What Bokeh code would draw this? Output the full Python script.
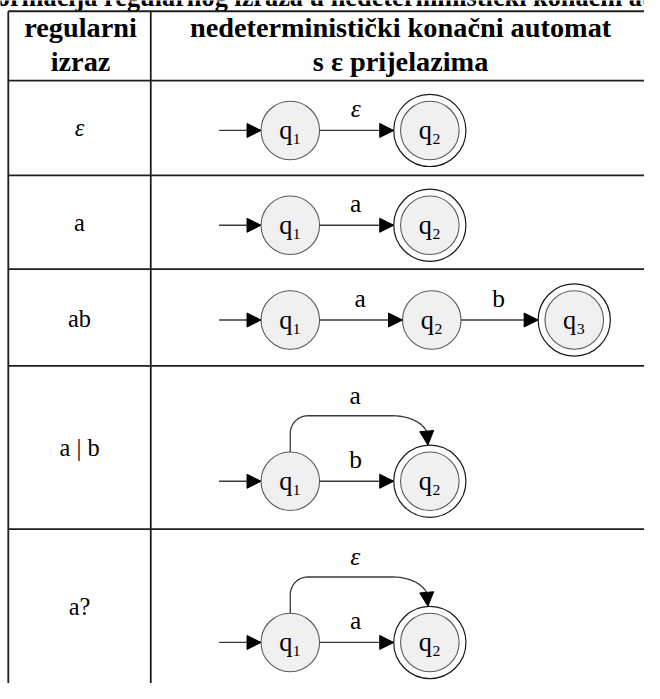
import numpy as np
from bokeh.plotting import figure
from bokeh.models import Arrow, NormalHead
from bokeh.core.properties import value
from bokeh.embed import file_html
from bokeh.resources import INLINE

# ---- data ----
title_text = "Transformacija regularnog izraza u nedeterministički konačni automat"
header_left = ["regularni", "izraz"]
header_right = ["nedeterministički konačni automat", "s ε prijelazima"]
row_labels = ["ε", "a", "ab", "a | b", "a?"]
row_states = [["q₁", "q₂"], ["q₁", "q₂"], ["q₁", "q₂", "q₃"], ["q₁", "q₂"], ["q₁", "q₂"]]
row_accepting = [[False, True], [False, True], [False, False, True], [False, True], [False, True]]
row_straight = [["ε"], ["a"], ["a", "b"], ["b"], ["a"]]
row_curved = [None, None, None, "a", "ε"]

# ---- layout (reference pixel space 660 x 699) ----
RW, RH = 660, 699
W, H = 644, 683
S = W / RW  # screen px per reference px


def fs(px):
    return f"{px * S:.1f}px"


p = figure(width=W, height=H, x_range=(0, RW), y_range=(RH, 0),
           output_backend="svg", toolbar_location=None, min_border=0)
p.axis.visible = False
p.grid.visible = False
p.outline_line_color = None
p.background_fill_color = "white"

SERIF = value("Liberation Serif")
LINE = "#1e1e1e"

# title (cut off at the top)
p.text(x=[330], y=[-3], text=[title_text], text_font=SERIF, text_font_size=fs(27),
       text_font_style="bold", text_align="center", text_baseline="middle", text_color="black")

# table grid
X_LEFT, X_DIV = 8, 154
h_lines = [11, 82, 179, 275, 374, 541]
for yl in h_lines:
    p.line([X_LEFT, RW], [yl, yl], line_color=LINE, line_width=1.8)
for xl in [X_LEFT, X_DIV]:
    p.line([xl, xl], [h_lines[0], RH], line_color=LINE, line_width=1.8)

# header
hdr_mid = [28, 62]
for i, t in enumerate(header_left):
    p.text(x=[(X_LEFT + X_DIV) / 2 + 1], y=[hdr_mid[i]], text=[t], text_font=SERIF, text_font_size=fs(29),
           text_font_style="bold", text_align="center", text_baseline="middle", text_color="black")
for i, t in enumerate(header_right):
    p.text(x=[410], y=[hdr_mid[i]], text=[t], text_font=SERIF, text_font_size=fs(29),
           text_font_style="bold", text_align="center", text_baseline="middle", text_color="black")

label_y = [130, 227, 325, 457, 620]
diag_y = [133, 230, 327, 492, 657]
state_x = [[297, 440], [297, 440], [297, 442, 588], [297, 440], [297, 440]]

R, RO = 30, 37
for lab, ly in zip(row_labels, label_y):
    style = "italic" if lab == "ε" else "normal"
    p.text(x=[(X_LEFT + X_DIV) / 2], y=[ly], text=[lab], text_font=SERIF, text_font_size=fs(25),
           text_font_style=style, text_align="center", text_baseline="middle", text_color="black")


def arrow(x0, y0, x1, y1):
    p.add_layout(Arrow(x_start=x0, y_start=y0, x_end=x1, y_end=y1,
                       line_color="#3a3a3a", line_width=1.3,
                       end=NormalHead(size=14, fill_color="black", line_color="black")))


for r in range(len(row_labels)):
    y = diag_y[r]
    xs = state_x[r]
    acc = row_accepting[r]
    # entry arrow
    arrow(224, y, xs[0] - R, y)
    # states
    for sx, name, a in zip(xs, row_states[r], acc):
        if a:
            p.circle(x=[sx], y=[y], radius=RO, fill_color="white", line_color="#1a1a1a", line_width=1.2)
        p.circle(x=[sx], y=[y], radius=R, fill_color="#f0f0f0", line_color="#5a5a5a", line_width=1.1)
        p.text(x=[sx], y=[y], text=[name], text_font=SERIF, text_font_size=fs(27),
               text_align="center", text_baseline="middle", text_color="black")
    # straight transitions
    for k, lab in enumerate(row_straight[r]):
        xa = xs[k] + R
        xb = xs[k + 1] - (RO if acc[k + 1] else R)
        arrow(xa, y, xb, y)
        style = "italic" if lab == "ε" else "normal"
        p.text(x=[(xa + xb) / 2 - 1], y=[y - 23], text=[lab], text_font=SERIF, text_font_size=fs(26),
               text_font_style=style, text_align="center", text_baseline="middle", text_color="black")
    # curved transition (from top of first state over to top of second)
    if row_curved[r] is not None:
        xs0 = xs[0]
        xe = xs[1] - 2
        ytop = y - 67
        ye = y - RO
        r1, r2x, r2y = 18, 36, 22
        t = np.linspace(0, np.pi / 2, 16)
        px = [xs0, xs0]
        py = [y - R, ytop + r1]
        px += list(xs0 + r1 - r1 * np.cos(t))
        py += list(ytop + r1 - r1 * np.sin(t))
        px += list(xe - r2x + r2x * np.sin(t))
        py += list(ytop + r2y - r2y * np.cos(t))
        px += [xe]
        py += [ye - 11]
        p.line(px, py, line_color="#3a3a3a", line_width=1.3)
        arrow(xe - 1, ye - 12, xe, ye)
        lab = row_curved[r]
        style = "italic" if lab == "ε" else "normal"
        p.text(x=[(xs0 + xe) / 2 - 4], y=[ytop - 21], text=[lab], text_font=SERIF, text_font_size=fs(26),
               text_font_style=style, text_align="center", text_baseline="middle", text_color="black")

open("out.html", "w").write(file_html(p, INLINE))
